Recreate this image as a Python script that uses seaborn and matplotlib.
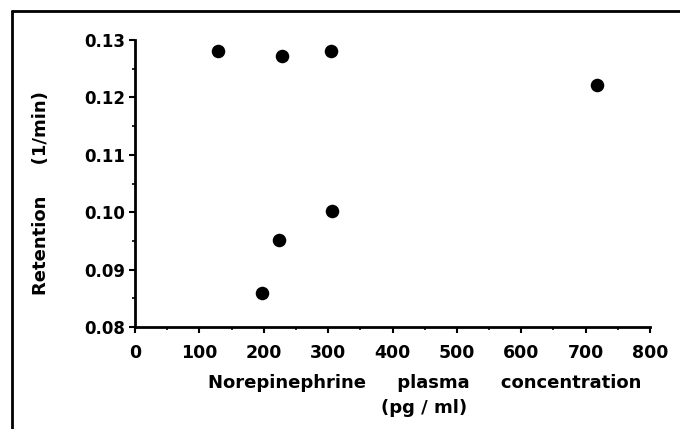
import matplotlib
matplotlib.use("Agg")
import matplotlib.pyplot as plt
from matplotlib.lines import Line2D
from matplotlib.ticker import MultipleLocator
import seaborn as sns
import pandas as pd

norepinephrine = [129, 228, 305, 717, 306, 224, 197]
retention = [0.1281, 0.1272, 0.1281, 0.1222, 0.1002, 0.0952, 0.0859]
x_ticks = [0, 100, 200, 300, 400, 500, 600, 700, 800]
y_ticks = [0.08, 0.09, 0.10, 0.11, 0.12, 0.13]

df = pd.DataFrame({"x": norepinephrine, "y": retention})

sns.set_style("ticks")
plt.rcParams["font.family"] = ["DejaVu Sans"]
plt.rcParams["text.color"] = "black"
plt.rcParams["xtick.color"] = "black"
plt.rcParams["ytick.color"] = "black"
plt.rcParams["xtick.labelcolor"] = "black"
plt.rcParams["ytick.labelcolor"] = "black"

fig = plt.figure(figsize=(6.8, 4.29), dpi=100)
ax = fig.add_axes([135 / 680, 1 - 327 / 429, 515 / 680, 287 / 429])
sns.scatterplot(data=df, x="x", y="y", ax=ax, color="black", s=95,
                edgecolor="black", linewidth=0, legend=False)

ax.set_xlim(0, 800)
ax.set_ylim(0.08, 0.13)
ax.set_xticks(x_ticks)
ax.set_yticks(y_ticks)
ax.set_xticklabels([str(v) for v in x_ticks], fontsize=12.5, fontweight="bold",
                   color="black")
ax.set_yticklabels([f"{v:.2f}" for v in y_ticks], fontsize=12, fontweight="bold",
                   color="black")
ax.xaxis.set_minor_locator(MultipleLocator(50))
ax.yaxis.set_minor_locator(MultipleLocator(0.005))
ax.tick_params(axis="x", which="major", direction="out", length=4, width=1.5,
               color="black", pad=8)
ax.tick_params(axis="y", which="major", direction="out", length=4, width=1.5,
               color="black", pad=3)
ax.tick_params(which="minor", direction="out", length=2.5, width=1.2, color="black")
ax.set_xlabel("")
ax.set_ylabel("")
for side in ["top", "right"]:
    ax.spines[side].set_visible(False)
for side in ["left", "bottom"]:
    ax.spines[side].set_linewidth(2)
    ax.spines[side].set_color("black")

fig.text(425 / 680, 1 - 383 / 429, "Norepinephrine     plasma     concentration",
         ha="center", va="center", fontsize=13, fontweight="bold", color="black")
fig.text(424 / 680, 1 - 408 / 429, "(pg / ml)",
         ha="center", va="center", fontsize=13, fontweight="bold", color="black")
fig.text(41 / 680, 1 - 193 / 429, "Retention     (1/min)", rotation=90,
         ha="center", va="center", fontsize=13, fontweight="bold", color="black")

# outer frame (top and left edges)
fig.add_artist(Line2D([12 / 680, 1.0], [1 - 11 / 429, 1 - 11 / 429],
                      transform=fig.transFigure, color="black", linewidth=2))
fig.add_artist(Line2D([12 / 680, 12 / 680], [0, 1 - 11 / 429],
                      transform=fig.transFigure, color="black", linewidth=2))

fig.savefig("out.png", dpi=100)
